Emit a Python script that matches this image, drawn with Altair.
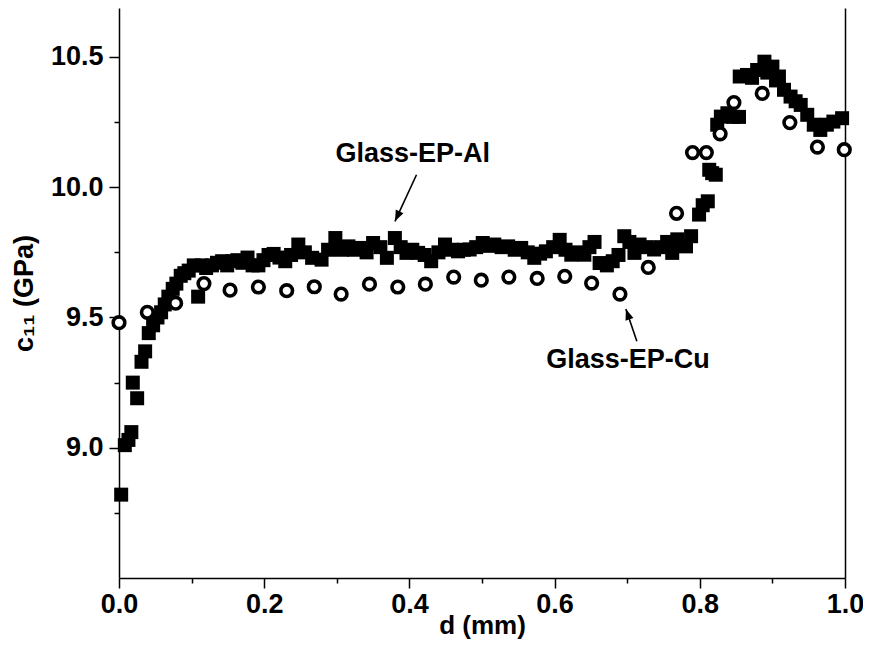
import altair as alt
import pandas as pd

# Glass-EP-Al (filled squares)
al_d = [0.003, 0.008, 0.013, 0.017, 0.019, 0.025, 0.031, 0.036, 0.041, 0.047,
        0.053, 0.058, 0.063, 0.068, 0.074, 0.079, 0.085, 0.090, 0.096, 0.103,
        0.109, 0.114, 0.120, 0.128, 0.135, 0.142, 0.149, 0.156, 0.163, 0.170,
        0.177, 0.184, 0.192, 0.199, 0.206, 0.213, 0.221, 0.229, 0.237, 0.247,
        0.256, 0.266, 0.279, 0.288, 0.298, 0.307, 0.316, 0.324, 0.332, 0.341,
        0.350, 0.360, 0.369, 0.380, 0.388, 0.396, 0.404, 0.412, 0.421, 0.430,
        0.440, 0.449, 0.458, 0.467, 0.475, 0.483, 0.492, 0.501, 0.509, 0.517,
        0.527, 0.536, 0.545, 0.554, 0.563, 0.572, 0.580, 0.588, 0.598, 0.607,
        0.615, 0.623, 0.632, 0.641, 0.648, 0.655, 0.662, 0.672, 0.680, 0.688,
        0.696, 0.703, 0.710, 0.717, 0.727, 0.737, 0.746, 0.755, 0.762, 0.769,
        0.781, 0.788, 0.799, 0.804, 0.811, 0.813, 0.817, 0.822, 0.824, 0.829,
        0.838, 0.846, 0.854, 0.855, 0.865, 0.872, 0.879, 0.889, 0.893, 0.900,
        0.905, 0.909, 0.916, 0.925, 0.932, 0.939, 0.948, 0.957, 0.966, 0.975,
        0.984, 0.996]
al_c11 = [8.82, 9.01, 9.03, 9.06, 9.25, 9.19, 9.33, 9.37, 9.44, 9.47,
          9.50, 9.52, 9.55, 9.58, 9.61, 9.63, 9.66, 9.67, 9.68, 9.70,
          9.58, 9.70, 9.69, 9.70, 9.71, 9.716, 9.70, 9.716, 9.72, 9.71,
          9.73, 9.70, 9.70, 9.72, 9.74, 9.744, 9.73, 9.716, 9.74, 9.78,
          9.75, 9.729, 9.722, 9.76, 9.805, 9.76, 9.773, 9.76, 9.767, 9.75,
          9.786, 9.77, 9.729, 9.805, 9.77, 9.748, 9.76, 9.748, 9.74, 9.716,
          9.75, 9.78, 9.76, 9.754, 9.76, 9.761, 9.77, 9.786, 9.775, 9.78,
          9.77, 9.773, 9.76, 9.767, 9.75, 9.729, 9.745, 9.754, 9.77, 9.798,
          9.76, 9.741, 9.75, 9.741, 9.77, 9.79, 9.709, 9.70, 9.716, 9.74,
          9.812, 9.79, 9.748, 9.78, 9.77, 9.761, 9.77, 9.79, 9.748, 9.80,
          9.773, 9.812, 9.895, 9.931, 9.946, 10.067, 10.054, 10.048, 10.24, 10.271,
          10.284, 10.27, 10.27, 10.425, 10.431, 10.42, 10.45, 10.482, 10.44, 10.463,
          10.41, 10.425, 10.374, 10.348, 10.33, 10.316, 10.278, 10.24, 10.22, 10.24,
          10.252, 10.265]

# Glass-EP-Cu (open circles)
cu_d = [0.000, 0.039, 0.078, 0.117, 0.153, 0.192, 0.231, 0.269, 0.306, 0.345,
        0.384, 0.422, 0.461, 0.499, 0.537, 0.576, 0.614, 0.651, 0.690, 0.729,
        0.768, 0.790, 0.809, 0.828, 0.847, 0.886, 0.924, 0.962, 0.999]
cu_c11 = [9.48, 9.52, 9.555, 9.63, 9.605, 9.617, 9.603, 9.618, 9.59, 9.628,
          9.617, 9.628, 9.655, 9.643, 9.655, 9.650, 9.658, 9.632, 9.59, 9.692,
          9.90, 10.133, 10.133, 10.205, 10.325, 10.36, 10.248, 10.154, 10.144]

# annotations
ann_text = ["Glass-EP-Al", "Glass-EP-Cu"]
ann_d = [0.4045, 0.701]
ann_c11 = [10.098, 9.308]
arrow_d0 = [0.4098, 0.7133]
arrow_c0 = [10.048, 9.409]
arrow_d1 = [0.3801, 0.6982]
arrow_c1 = [9.869, 9.533]

x_major = [0.0, 0.2, 0.4, 0.6, 0.8, 1.0]
x_minor = [0.1, 0.3, 0.5, 0.7, 0.9]
y_major = [9.0, 9.5, 10.0, 10.5]
y_minor = [8.75, 9.25, 9.75, 10.25]

FONT = "Liberation Sans"

al = pd.DataFrame({"d": al_d, "c": al_c11})
cu = pd.DataFrame({"d": cu_d, "c": cu_c11})
ann = pd.DataFrame({"t": ann_text, "d": ann_d, "c": ann_c11})
arr = pd.DataFrame({"d0": arrow_d0, "c0": arrow_c0, "d1": arrow_d1, "c1": arrow_c1})

xs = alt.Scale(domain=[0, 1], nice=False, zero=False)
ys = alt.Scale(domain=[8.5, 10.688], nice=False, zero=False)

common_axis = dict(labelFont=FONT, labelFontSize=27, labelFontWeight="bold",
                   labelColor="black", tickColor="black", domainColor="black",
                   tickWidth=1.5, domainWidth=1.5, grid=False,
                   titleFont=FONT, titleFontWeight="bold",
                   titleColor="black")

x_axis_major = alt.Axis(values=x_major, format=".1f", title="d  (mm)", orient="bottom",
                        tickSize=10, labelPadding=3, labelFlush=False, labelOverlap=False,
                        titlePadding=-5, titleFontSize=26, **common_axis)
y_axis_major = alt.Axis(values=y_major, format=".1f", title="c\u2081\u2081  (GPa)", orient="left",
                        tickSize=10, labelPadding=6, labelOverlap=False,
                        titlePadding=12, titleFontSize=27, **common_axis)
x_axis_minor = alt.Axis(values=x_minor, labels=False, domain=False, title=None,
                        orient="bottom", tickSize=5, tickColor="black", tickWidth=1.5, grid=False)
y_axis_minor = alt.Axis(values=y_minor, labels=False, domain=False, title=None,
                        orient="left", tickSize=5, tickColor="black", tickWidth=1.5, grid=False)
y_axis_right = alt.Axis(labels=False, ticks=False, domain=True, title=None, orient="right",
                        domainColor="black", domainWidth=1.5, grid=False)

squares = alt.Chart(al).mark_point(shape="square", filled=True, size=196,
                                   color="black", opacity=1).encode(
    x=alt.X("d:Q", scale=xs, axis=x_axis_major),
    y=alt.Y("c:Q", scale=ys, axis=y_axis_major),
)

circles = alt.Chart(cu).mark_point(shape="circle", filled=True, fill="white",
                                   stroke="black", strokeWidth=3.6, size=135,
                                   opacity=1, fillOpacity=1, strokeOpacity=1).encode(
    x=alt.X("d:Q", scale=xs, axis=None),
    y=alt.Y("c:Q", scale=ys, axis=y_axis_right),
)

labels = alt.Chart(ann).mark_text(font=FONT, fontSize=27, fontWeight="bold",
                                  color="black", align="center",
                                  baseline="alphabetic").encode(
    x=alt.X("d:Q", scale=xs, axis=x_axis_minor),
    y=alt.Y("c:Q", scale=ys, axis=y_axis_minor),
    text="t:N",
)

rules = alt.Chart(arr).mark_rule(color="black", strokeWidth=1.6).encode(
    x=alt.X("d0:Q", scale=xs, axis=None),
    y=alt.Y("c0:Q", scale=ys, axis=None),
    x2="d1:Q",
    y2="c1:Q",
)

head_shape = "M0,0L-0.38,1L0.38,1Z"
head1 = alt.Chart(arr.iloc[[0]]).mark_point(shape=head_shape, filled=True, size=484,
                                            color="black", opacity=1, angle=205).encode(
    x=alt.X("d1:Q", scale=xs, axis=None),
    y=alt.Y("c1:Q", scale=ys, axis=None),
)
head2 = alt.Chart(arr.iloc[[1]]).mark_point(shape=head_shape, filled=True, size=484,
                                            color="black", opacity=1, angle=341).encode(
    x=alt.X("d1:Q", scale=xs, axis=None),
    y=alt.Y("c1:Q", scale=ys, axis=None),
)

chart = alt.layer(squares, circles, labels, rules, head1, head2).resolve_axis(
    x="independent", y="independent"
).properties(
    width=726, height=570,
    padding={"left": 111, "top": 0, "right": 18, "bottom": 63},
    autosize=alt.AutoSizeParams(type="none"),
    background="white",
).configure_view(stroke=None)

chart.save("out.html", embed_options={"renderer": "svg", "actions": False})
